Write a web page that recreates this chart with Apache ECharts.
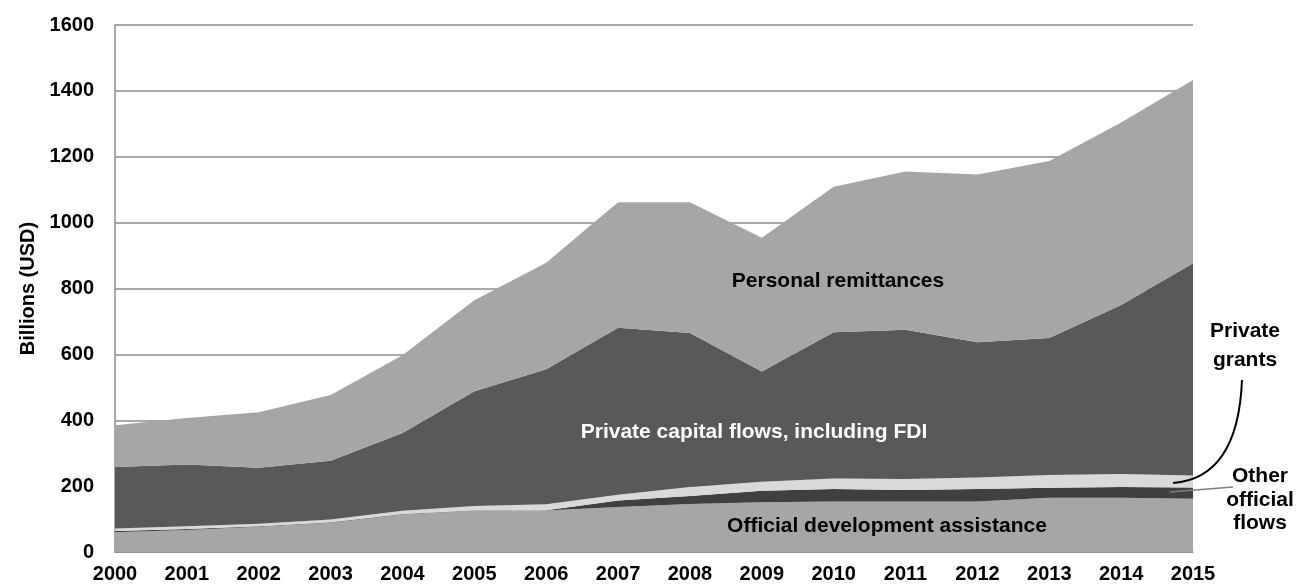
<!DOCTYPE html>
<html>
<head>
<meta charset="utf-8">
<script src="https://cdn.jsdelivr.net/npm/echarts@6/dist/echarts.min.js"></script>
<style>
html,body{margin:0;padding:0;background:#fff;}
#main{width:1296px;height:587px;}
</style>
</head>
<body>
<div id="main"></div>
<script>
const years = ['2000','2001','2002','2003','2004','2005','2006','2007','2008','2009','2010','2011','2012','2013','2014','2015'];
const oda = [60,67,77,89,114,126,126,137,146,151,153,153,153,165,165,162];
const otherOfficial = [4,3,1,1,1,1,1,19,24,35,38,35,38,30,32,34];
const privateGrants = [7,8,8,9,10,13,18,18,27,27,32,34,35,39,40,36];
const privateCapital = [187,188,170,178,236,348,410,507,468,335,444,453,411,416,513,645];
const remittances = [127,141,168,200,236,276,323,381,397,406,442,480,509,537,554,556];
const yTicks = [0,200,400,600,800,1000,1200,1400,1600];

const FONT = '"Liberation Sans", Arial, sans-serif';
const chart = echarts.init(document.getElementById('main'));

function area(name, data, color) {
  return {
    name: name, type: 'line', stack: 'total', data: data,
    symbol: 'none', smooth: false,
    lineStyle: { width: 0 },
    areaStyle: { color: color, opacity: 1 },
    itemStyle: { color: color },
    emphasis: { disabled: true },
    animation: false
  };
}

chart.setOption({
  animation: false,
  grid: { left: 115, right: 103, top: 25, bottom: 35, containLabel: false },
  xAxis: {
    type: 'category', data: years, boundaryGap: false,
    axisLine: { show: true, lineStyle: { color: '#8c8c8c', width: 1.5 } },
    axisTick: { show: false },
    axisLabel: { color: '#000', fontWeight: 'bold', fontSize: 20, fontFamily: FONT, margin: 12, interval: 0 },
    splitLine: { show: false }
  },
  yAxis: {
    type: 'value', min: yTicks[0], max: yTicks[yTicks.length - 1], interval: 200,
    name: 'Billions (USD)', nameLocation: 'middle', nameGap: 71, nameRotate: 90,
    nameTextStyle: { color: '#000', fontWeight: 'bold', fontSize: 20, fontFamily: FONT },
    axisLine: { show: true, lineStyle: { color: '#8c8c8c', width: 1.5 } },
    axisTick: { show: false },
    axisLabel: { color: '#000', fontWeight: 'bold', fontSize: 20, fontFamily: FONT, margin: 21,
                 formatter: function (v) { return String(v); } },
    splitLine: { show: true, lineStyle: { color: '#8c8c8c', width: 1.5 } }
  },
  series: [
    area('Official development assistance', oda, '#a6a6a6'),
    area('Other official flows', otherOfficial, '#404040'),
    area('Private grants', privateGrants, '#d9d9d9'),
    area('Private capital flows, including FDI', privateCapital, '#595959'),
    area('Personal remittances', remittances, '#a6a6a6')
  ],
  graphic: [
    { type: 'text', x: 838, y: 281, style: { text: 'Personal remittances', fill: '#000', font: 'bold 21px ' + FONT, textAlign: 'center', textVerticalAlign: 'middle' }, z: 100 },
    { type: 'text', x: 754, y: 432, style: { text: 'Private capital flows, including FDI', fill: '#fff', font: 'bold 21px ' + FONT, textAlign: 'center', textVerticalAlign: 'middle' }, z: 100 },
    { type: 'text', x: 887, y: 526, style: { text: 'Official development assistance', fill: '#000', font: 'bold 21px ' + FONT, textAlign: 'center', textVerticalAlign: 'middle' }, z: 100 },
    { type: 'text', x: 1245, y: 346, style: { text: 'Private\ngrants', fill: '#000', font: 'bold 21px ' + FONT, textAlign: 'center', textVerticalAlign: 'middle', lineHeight: 29 }, z: 100 },
    { type: 'text', x: 1260, y: 500, style: { text: 'Other\nofficial\nflows', fill: '#000', font: 'bold 21px ' + FONT, textAlign: 'center', textVerticalAlign: 'middle', lineHeight: 23.5 }, z: 100 },
    { type: 'bezierCurve', shape: { x1: 1242, y1: 380, x2: 1173, y2: 483, cpx1: 1238, cpy1: 478 }, style: { stroke: '#000', lineWidth: 2, fill: null }, z: 100 },
    { type: 'line', shape: { x1: 1233, y1: 487, x2: 1170, y2: 492 }, style: { stroke: '#7f7f7f', lineWidth: 1.5 }, z: 100 }
  ]
});
</script>
</body>
</html>
